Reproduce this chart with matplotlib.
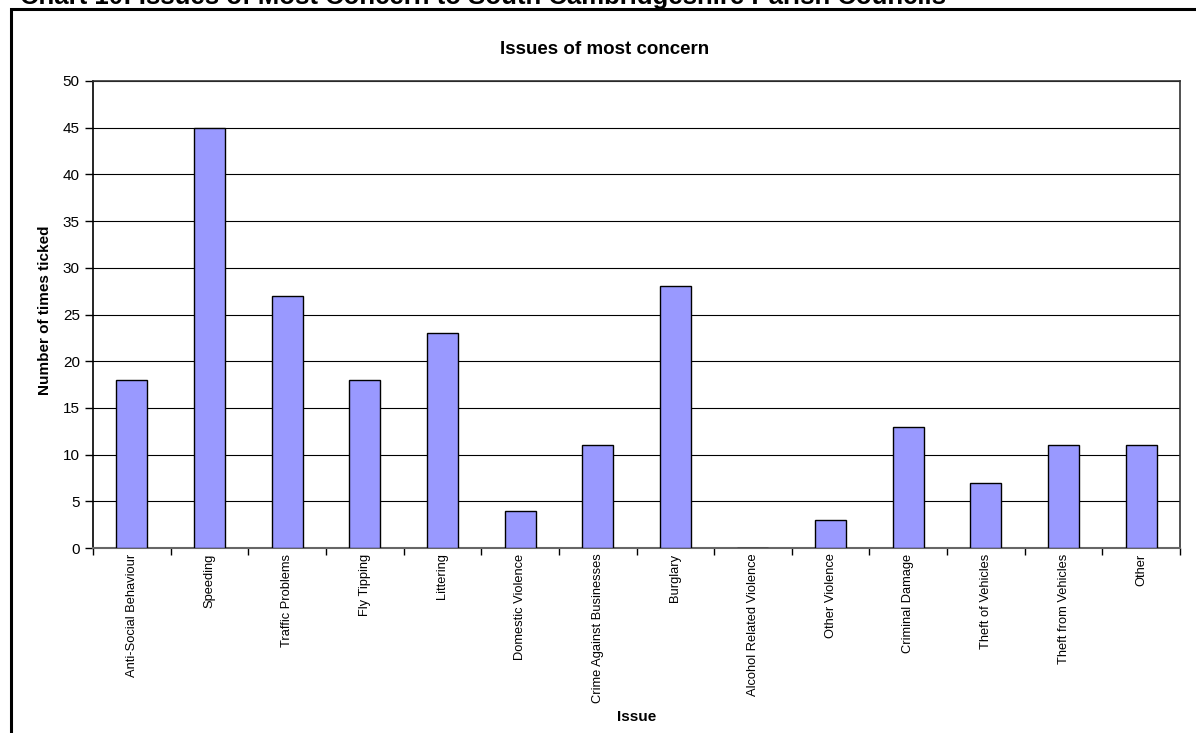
import matplotlib.pyplot as plt
import numpy as np

plt.rcParams['font.family'] = ['Liberation Sans', 'DejaVu Sans']

issues = ['Anti-Social Behaviour', 'Speeding', 'Traffic Problems', 'Fly Tipping',
          'Littering', 'Domestic Violence', 'Crime Against Businesses', 'Burglary',
          'Alcohol Related Violence', 'Other Violence', 'Criminal Damage',
          'Theft of Vehicles', 'Theft from Vehicles', 'Other']
times_ticked = [18, 45, 27, 18, 23, 4, 11, 28, 0, 3, 13, 7, 11, 11]
y_ticks = [0, 5, 10, 15, 20, 25, 30, 35, 40, 45, 50]

W, H = 1196, 733
fig = plt.figure(figsize=(W / 100, H / 100), dpi=100)

# chart border box (runs off the right and bottom of the page)
fig.patches.append(plt.Rectangle((11 / W, -0.05), 1.2, 1 - 9 / H + 0.05,
                                 transform=fig.transFigure, fill=False,
                                 edgecolor='black', linewidth=2.2))

# page heading, mostly cut off at the top
fig.text(20 / W, 1 - 4 / H, 'Chart 10: Issues of Most Concern to South Cambridgeshire Parish Councils',
         fontsize=18.5, fontweight='bold', ha='left', va='baseline')

ax = fig.add_axes([93 / W, 1 - 548 / H, (1180 - 93) / W, (548 - 81) / H])
x = np.arange(len(issues))
ax.bar(x, times_ticked, width=0.4, color='#9999FF', edgecolor='black', linewidth=1.0, zorder=3)

ax.set_xlim(-0.5, len(issues) - 0.5)
ax.set_ylim(0, 50)
ax.set_yticks(y_ticks)
ax.tick_params(axis='y', labelsize=11, length=6, direction='out', width=1)
ax.yaxis.grid(True, color='black', linewidth=0.8, zorder=0)

# category labels sit under the bars, tick marks between categories
ax.set_xticks(x)
ax.set_xticklabels(issues, rotation=90, fontsize=9.3, va='top')
ax.tick_params(axis='x', length=0, pad=4)
ax.set_xticks(np.arange(len(issues) + 1) - 0.5, minor=True)
ax.tick_params(axis='x', which='minor', length=5, direction='out', width=1)

for side in ['top', 'right']:
    ax.spines[side].set_color('#333333')
    ax.spines[side].set_linewidth(1.2)
ax.spines['left'].set_linewidth(1.2)
ax.spines['bottom'].set_color('#666666')
ax.spines['bottom'].set_linewidth(1.5)

fig.text(605 / W, 1 - 50 / H, 'Issues of most concern', fontsize=13.5, fontweight='bold',
         ha='center', va='center')
fig.text(45 / W, 1 - 310 / H, 'Number of times ticked', fontsize=11, fontweight='bold',
         rotation=90, ha='center', va='center')
fig.text(637 / W, 1 - 717 / H, 'Issue', fontsize=11, fontweight='bold',
         ha='center', va='center')

fig.savefig('out.png', dpi=100)
